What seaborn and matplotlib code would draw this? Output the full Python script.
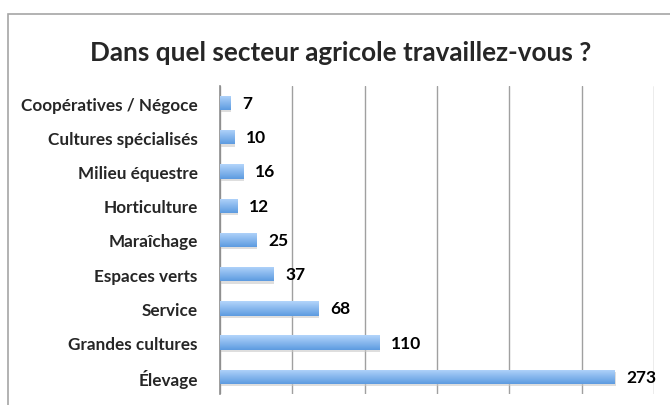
import numpy as np
import pandas as pd
import matplotlib
matplotlib.use('Agg')
import matplotlib.pyplot as plt
from matplotlib.colors import LinearSegmentedColormap
from matplotlib.patches import Rectangle
import seaborn as sns

# Données
secteurs = ['Coopératives / Négoce', 'Cultures spécialisés', 'Milieu équestre',
            'Horticulture', 'Maraîchage', 'Espaces verts', 'Service',
            'Grandes cultures', 'Élevage']
effectifs = [7, 10, 16, 12, 25, 37, 68, 110, 273]
graduations = [0, 50, 100, 150, 200, 250, 300]

df = pd.DataFrame({'secteur': secteurs, 'effectif': effectifs})

sns.set_theme(style='white')
plt.rcParams['font.family'] = ['Lato', 'DejaVu Sans']

fig = plt.figure(figsize=(6.7, 4.06), dpi=100)
ax = fig.add_axes([0.3284, 0.027, 0.6478, 0.759])

# cadre du graphique (coupé à droite et en bas comme l'original)
fig.patches.append(Rectangle((8 / 670, -0.1), 1.2, 1 - 15 / 406 + 0.1,
                             transform=fig.transFigure, fill=False,
                             edgecolor='#a6a6a6', linewidth=1.2, zorder=0))

sns.barplot(data=df, x='effectif', y='secteur', orient='h', color='#7fb2ec',
            width=0.42, ax=ax, zorder=3)

# dégradé bleu + ombre sur chaque barre
degrade = LinearSegmentedColormap.from_list('deg', ['#b3d5fb', '#5d9be0'])
grad = np.linspace(0, 1, 64).reshape(-1, 1)
for p in ax.patches:
    x0, y0 = p.get_x(), p.get_y()
    w, h = p.get_width(), p.get_height()
    ombre = Rectangle((x0 + 0.6, y0 + h * 0.15), w, h, facecolor='#c8c8c8',
                      edgecolor='none', alpha=0.6, zorder=2)
    ax.add_patch(ombre)
    im = ax.imshow(grad, cmap=degrade, aspect='auto', origin='upper',
                   extent=(x0, x0 + w, y0 + h, y0), zorder=4)
    im.set_clip_path(p)
    p.set_edgecolor('none')

# étiquettes de valeurs
for i, v in enumerate(effectifs):
    ax.annotate(str(v), (v, i), xytext=(8.5, 0), textcoords='offset points',
                va='center', ha='left', fontsize=12.5, fontweight='bold',
                color='black', zorder=5)

ax.set_xlim(0, 300)
ax.set_ylim(len(secteurs) - 0.5, -0.5)
ax.set_xticks(graduations)
ax.set_xticklabels([])
ax.xaxis.grid(True, color='#a0a0a0', linewidth=1)
ax.set_axisbelow(True)
ax.tick_params(axis='y', length=0, pad=16, labelsize=12.3)
for lab in ax.get_yticklabels():
    lab.set_fontweight('bold')
ax.tick_params(axis='x', length=0)
ax.set_xlabel('')
ax.set_ylabel('')
for s in ['top', 'right', 'bottom']:
    ax.spines[s].set_visible(False)
ax.spines['left'].set_color('#8c8c8c')
ax.spines['left'].set_linewidth(1.2)

fig.text(0.509, 1 - 53 / 406, 'Dans quel secteur agricole travaillez-vous ?',
         ha='center', va='center', fontsize=18.8, fontweight='bold')

fig.savefig('out.png', dpi=100)
